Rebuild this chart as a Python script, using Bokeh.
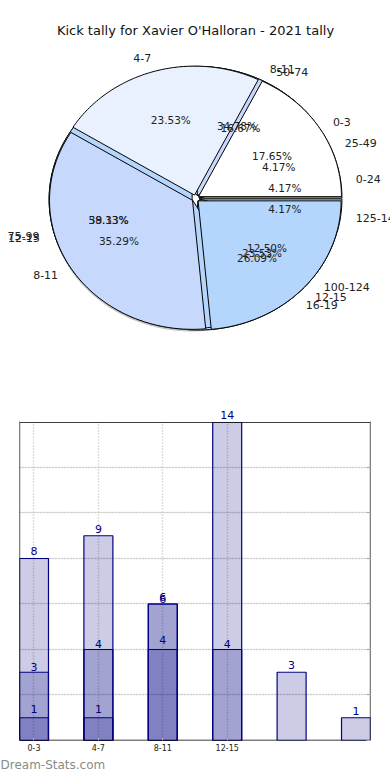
import numpy as np
from bokeh.plotting import figure
from bokeh.models import (Range1d, ColumnDataSource, LabelSet, Label, FixedTicker, Title,
                          LinearAxis, Grid, SingleIntervalTicker, BoxAnnotation)
from bokeh.core.properties import value
from bokeh.embed import file_html
from bokeh.resources import INLINE

title_text = "Kick tally for Xavier O'Halloran - 2021 tally"
watermark = "Dream-Stats.com"

# pies, drawn bottom to top
pie2_labels = ["8-11", "12-15", "16-19"]
pie2_values = [8, 9, 6]
pie3_labels = ["0-24", "25-49", "50-74", "75-99", "100-124", "125-149"]
pie3_values = [1, 1, 4, 14, 3, 1]
pie1_labels = ["0-3", "4-7", "8-11", "12-15"]
pie1_values = [3, 4, 6, 4]
slice_colors = ["#ffffff", "#eaf1fe", "#c6d9fd", "#b4d5fc", "#a6c8f7", "#dbe7fd"]

# bars (overlaid series)
bar_positions = [0, 1, 2, 3, 4, 5]
bar_tick_labels = ["0-3", "4-7", "8-11", "12-15"]
series_a = [8, 9, 6, 14, 3, 1]
series_b = [3, 4, 6, 4]
series_c = [1, 1, 4]

FONT = "DejaVu Sans"
W = 390
BL, BR, FW = 19, 20, 351

# ---------------- pie figure ----------------
H1 = 390
pf = figure(width=W, height=H1, x_range=Range1d(0, W), y_range=Range1d(H1, 0),
            output_backend="svg", toolbar_location=None,
            x_axis_location=None, y_axis_location=None, title=None, min_border=0)
pf.outline_line_color = None
pf.xgrid.visible = False
pf.ygrid.visible = False

CX, CY, RX, RY, EXPL = 195.0, 198.0, 143.0, 129.0, 3.5

pf.add_layout(Label(x=195, y=30, text=title_text, text_align="center", text_baseline="middle",
                    text_font=FONT, text_font_size="13px", text_color="#111111"))

# shadow + white base
t = np.linspace(0, 2 * np.pi, 240)
pf.patch(CX - 3 + RX * np.cos(t), CY + 4 + RY * np.sin(t), fill_color="#aaaaaa",
         fill_alpha=0.7, line_color=None)
pf.patch(CX - 2 + RX * np.cos(t), CY + 2.5 + RY * np.sin(t), fill_color="#5a5a5a",
         line_color=None)
pf.patch(CX + RX * np.cos(t), CY + RY * np.sin(t), fill_color="#ffffff", line_color=None)


def pie(values, labels):
    total = float(sum(values))
    xs, ys, cols = [], [], []
    lab = {"left": ([], [], []), "right": ([], [], [])}
    px, py, pt = [], [], []
    a0 = 0.0
    for i, v in enumerate(values):
        span = v / total * 2 * np.pi
        a1 = a0 + span
        mid = (a0 + a1) / 2
        ox, oy = EXPL * np.cos(mid), -EXPL * np.sin(mid)
        n = max(3, int(np.degrees(span)) + 2)
        ang = np.linspace(a0, a1, n)
        xs.append(list(np.concatenate([[CX + ox], CX + ox + RX * np.cos(ang)])))
        ys.append(list(np.concatenate([[CY + oy], CY + oy - RY * np.sin(ang)])))
        cols.append(slice_colors[i % len(slice_colors)])
        c, s = np.cos(mid), np.sin(mid)
        side = "left" if c >= 0 else "right"
        lab[side][0].append(CX + c * RX * 1.13)
        lab[side][1].append(CY - s * RY * 1.13)
        lab[side][2].append(labels[i])
        px.append(CX + c * RX * 0.63)
        py.append(CY - s * RY * 0.63)
        pt.append(f"{v / total * 100:.2f}%")
        a0 = a1
    pf.patches(xs, ys, fill_color=cols, line_color="#000000", line_width=1)
    return lab, (px, py, pt)


all_labels = []
for vals, labs in [(pie2_values, pie2_labels), (pie3_values, pie3_labels),
                   (pie1_values, pie1_labels)]:
    all_labels.append(pie(vals, labs))

for lab, (px, py, pt) in all_labels:
    for side, (lx, ly, lt) in lab.items():
        if not lx:
            continue
        src = ColumnDataSource(dict(x=lx, y=ly, t=lt))
        pf.add_layout(LabelSet(x="x", y="y", text="t", source=src, text_align=side,
                               text_baseline="middle", text_font=value(FONT),
                               text_font_size="11px", text_color="#222222"))
    src2 = ColumnDataSource(dict(x=px, y=py, t=pt))
    pf.add_layout(LabelSet(x="x", y="y", text="t", source=src2, text_align="center",
                           text_baseline="middle", text_font=value(FONT),
                           text_font_size="10.5px", text_color="#222222"))

# ---------------- bar figure ----------------
YTOP = 14
YEXTRA = 0.9
bf = figure(frame_width=FW, frame_height=339, x_range=Range1d(-0.225, 5.225),
            y_range=Range1d(0, YTOP + YEXTRA), output_backend="svg", toolbar_location=None,
            y_axis_location=None, title=None, min_border_left=BL, min_border_right=BR,
            min_border_top=11, min_border_bottom=0)
bf.outline_line_color = None
bf.xgrid.visible = False

bf.add_layout(Grid(dimension=1, ticker=SingleIntervalTicker(interval=2),
                   grid_line_color="#bbbbbb", grid_line_dash="1 2", grid_line_width=1.5))
bf.add_layout(Grid(dimension=0, ticker=FixedTicker(ticks=[0, 1, 2, 3]),
                   grid_line_color="#bbbbbb", grid_line_dash="1 2", grid_line_width=1.5))

xa = bf.xaxis[0]
xa.ticker = FixedTicker(ticks=[0, 1, 2, 3])
xa.major_label_overrides = {i: lab for i, lab in enumerate(bar_tick_labels)}
xa.major_label_text_font = FONT
xa.major_label_text_font_size = "8px"
xa.major_label_text_color = "#222222"
xa.major_label_standoff = 3
xa.major_tick_in = 3
xa.major_tick_out = 0
xa.major_tick_line_color = "#aaaaaa"
xa.minor_tick_line_color = None
xa.axis_line_color = None

BAR_W = 0.45
for ser in [series_a, series_b, series_c]:
    bf.vbar(x=bar_positions[:len(ser)], top=ser, width=BAR_W, bottom=0,
            fill_color="#000080", fill_alpha=0.2, line_color="#000080", line_width=1.2)

# hide the space above the plotting box, then draw the box itself
bf.add_layout(BoxAnnotation(bottom=YTOP, fill_color="#ffffff", fill_alpha=1.0,
                            line_color=None))
bf.quad(left=[-0.225], right=[5.225], bottom=[0], top=[YTOP], fill_color=None,
        line_color="#000000", line_width=1.3)
# right-side inward ticks (no labels)
ra = LinearAxis(ticker=SingleIntervalTicker(interval=2), major_label_text_color=None,
                major_tick_in=4, major_tick_out=0, major_tick_line_color="#aaaaaa",
                minor_tick_line_color=None, axis_line_color=None, major_label_standoff=0,
                bounds=(0, YTOP))
ra.major_label_overrides = {v: " " for v in range(0, 16, 2)}
bf.add_layout(ra, "right")

for ser, off in [(series_a, 7), (series_b, 5), (series_c, 9)]:
    src = ColumnDataSource(dict(x=bar_positions[:len(ser)], y=ser, t=[str(v) for v in ser]))
    bf.add_layout(LabelSet(x="x", y="y", text="t", source=src, text_align="center",
                           text_baseline="middle", y_offset=off, text_color="#000080",
                           text_font=value(FONT), text_font_size="11px"))

bf.add_layout(Title(text=watermark, align="left", text_color="#8a8a8a",
                    text_font=FONT, text_font_size="12px", text_font_style="normal",
                    offset=-BL, standoff=4), "below")

open("out.html", "w").write(file_html([pf, bf], INLINE))
